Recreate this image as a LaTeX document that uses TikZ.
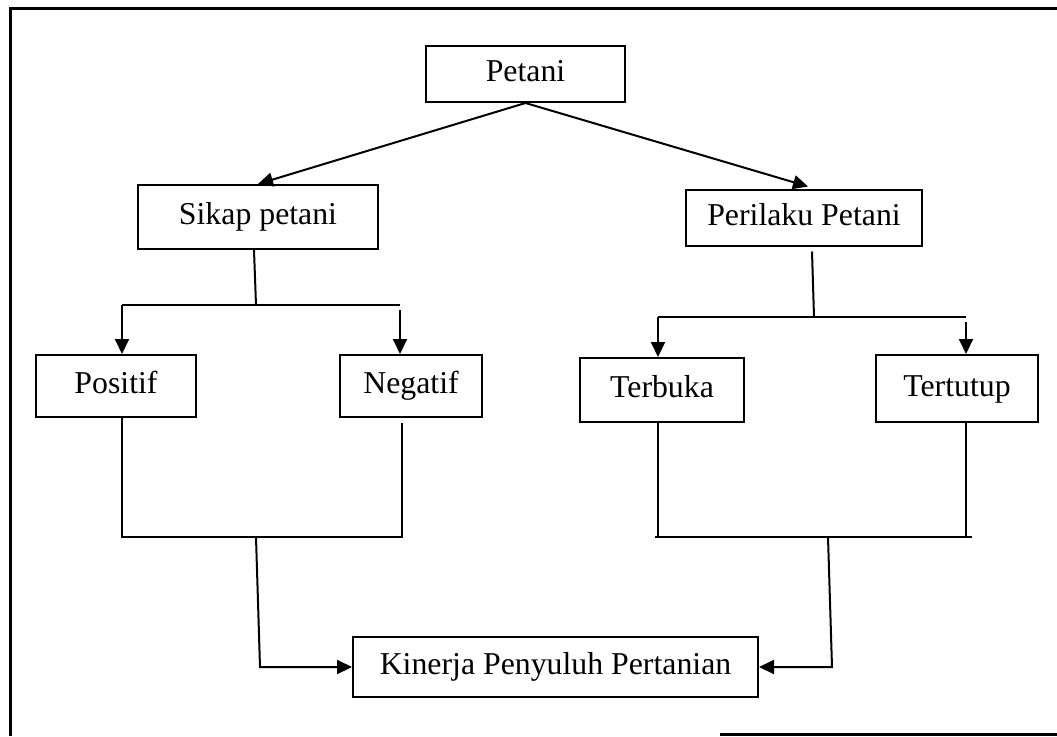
\documentclass[tikz,border=0pt]{standalone}
\usepackage{fontspec}
\setmainfont{Liberation Serif}
\usetikzlibrary{arrows.meta, positioning}

\begin{document}
\begin{tikzpicture}[
    x=1pt, y=-1pt,
    every node/.style={font=\fontsize{31.8}{38}\selectfont},
    box/.style={rectangle, draw=black, line width=2pt, inner sep=0pt,
        text height=22pt, text depth=7pt,
        minimum width=#1, align=center},
    conn/.style={line width=2pt},
    arrow/.style={-{Triangle[length=15pt, width=14pt]}, line width=2pt},
    frame/.style={line width=3pt},
]
\useasboundingbox (0,0) rectangle (1057,736);

% --- Outer frame ---
\draw[frame] (1057,8) -- (10,8) -- (10,736);
\draw[frame] (720,734) -- (1057,734);

% --- Top ---
\node[box=199pt, minimum height=56pt] (petani) at (525.5,74) {Petani};

% --- Second level ---
\node[box=240pt, minimum height=64pt] (sikap) at (258,217) {Sikap petani};
\node[box=236pt, minimum height=56pt] (perilaku) at (804,217.5) {Perilaku Petani};

% --- Third level ---
\node[box=160pt, minimum height=62pt] (positif) at (116,386) {Positif};
\node[box=142pt, minimum height=62pt] (negatif) at (411,386) {Negatif};
\node[box=164pt, minimum height=64pt] (terbuka) at (662,390) {Terbuka};
\node[box=162pt, minimum height=67pt] (tertutup) at (957,388.5) {Tertutup};

% --- Bottom ---
\node[box=405pt, minimum height=60pt] (kinerja) at (555.5,667) {Kinerja Penyuluh Pertanian};

% --- Branch points ---
\coordinate (sleft) at (122,305);
\coordinate (sright) at (400,305);
\coordinate (smid) at (256,305);
\coordinate (pleft) at (658,317);
\coordinate (pright) at (966,317);
\coordinate (pmid) at (814,317);
\coordinate (jleft) at (122,537);
\coordinate (jright) at (402,537);
\coordinate (jmid) at (256,537);
\coordinate (jbend) at (260,667);
\coordinate (kleft) at (655,537);
\coordinate (kright) at (972,537);
\coordinate (kmid) at (828,537);
\coordinate (kbend) at (832,667);

% --- Arrows ---
\draw[arrow] (petani.south) -- (sikap.north);
\draw[arrow] (petani.south) -- ([xshift=4pt,yshift=2pt]perilaku.north);

\draw[conn] ([xshift=-4pt]sikap.south) -- (smid);
\draw[conn] (sleft) -- (sright);
\draw[arrow] (sleft) -- (sleft |- positif.north);
\draw[arrow] ([yshift=-5pt]sright) -- (sright |- negatif.north);

\draw[conn] ([xshift=8pt,yshift=-5pt]perilaku.south) -- (pmid);
\draw[conn] (pleft) -- (pright);
\draw[arrow] (pleft) -- (pleft |- terbuka.north);
\draw[arrow] ([yshift=-5pt]pright) -- (pright |- tertutup.north);

\draw[conn] (positif.south -| jleft) -- (jleft) -- (jright) -- ([yshift=-5pt]negatif.south -| jright);
\draw[arrow] (jmid) -- (jbend) -- (kinerja.west);

\draw[conn] (terbuka.south -| pleft) -- (pleft |- kleft);
\draw[conn] (tertutup.south -| pright) -- (pright |- kright);
\draw[conn] (kleft) -- (kright);
\draw[arrow] (kmid) -- (kbend) -- (kinerja.east);

\end{tikzpicture}
\end{document}
